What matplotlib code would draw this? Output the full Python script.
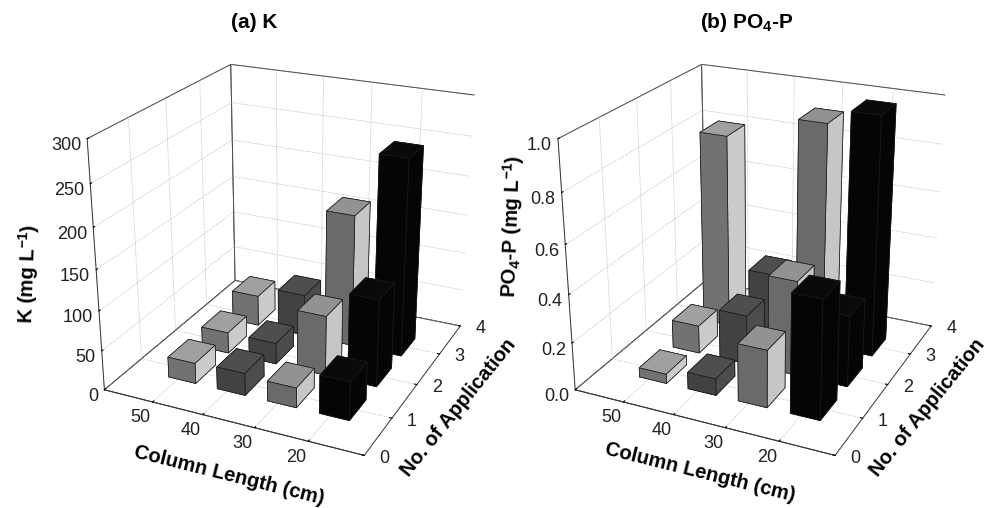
import matplotlib
matplotlib.use('Agg')
import matplotlib.pyplot as plt
from mpl_toolkits.mplot3d import proj3d
import numpy as np

plt.rcParams['font.family'] = 'Liberation Sans'
plt.rcParams['mathtext.fontset'] = 'custom'
plt.rcParams['mathtext.rm'] = 'Liberation Sans'
plt.rcParams['mathtext.bf'] = 'Liberation Sans:bold'
plt.rcParams['mathtext.default'] = 'regular'

column_length = [50, 40, 30, 20]
applications = [3, 2, 1]
app_ticks = [0, 1, 2, 3, 4]

# one list per column length, application 3, 2, 1
k_values = [[40, 27, 26], [54, 27, 28], [170, 76, 25], [250, 110, 48]]
po4_values = [[0.83, 0.12, 0.04], [0.27, 0.21, 0.07], [0.94, 0.40, 0.24], [1.00, 0.30, 0.49]]

k_ticks = [0, 50, 100, 150, 200, 250, 300]
po4_ticks = [0.0, 0.2, 0.4, 0.6, 0.8, 1.0]

# front, side, top greys for each column length
col_greys = [('#727272', '#cbcbcb', '#a0a0a0'),
             ('#424242', '#4c4c4c', '#4e4e4e'),
             ('#6a6a6a', '#c6c6c6', '#929292'),
             ('#050505', '#050505', '#0a0a0a')]


def tick_text(ax, x, y, z, s, dx, dy, ha='center'):
    # tick label anchored on the projected axis point, moved by some pixels
    px, py, _ = proj3d.proj_transform(x, y, z, ax.get_proj())
    ax.annotate(s, xy=(px, py), xytext=(dx, dy), textcoords='offset pixels',
                fontsize=13, color='#222222', ha=ha, va='center', annotation_clip=False)


def draw_panel(pos, values, zmax, zticks, zfmt):
    ax = fig.add_axes(pos, projection='3d', computed_zorder=False)
    ax.set_proj_type('persp', focal_length=0.45)
    ax.view_init(elev=23.3, azim=-65)
    ax.set_box_aspect((0.985, 1, 0.93), zoom=0.905)
    ax.set_xlim(60, 10)
    ax.set_ylim(0, 4)
    ax.set_zlim(0, zmax)
    ax.patch.set_alpha(0)

    order = 1
    for i, length in enumerate(column_length):
        front, side, top = col_greys[i]
        for j, app in enumerate(applications):
            # bar3d faces: -z, +z, -y, +y, -x, +x
            ax.bar3d(length - 3.7, app - 0.3, 0, 5.6, 0.6, values[i][j],
                     color=[top, top, front, front, side, side],
                     edgecolor='#1a1a1a', linewidth=0.5, shade=False,
                     zorder=order)
            order += 1

    ax.set_xticks(column_length)
    ax.set_yticks(app_ticks)
    ax.set_zticks(zticks)
    ax.set_xticklabels([])
    ax.set_yticklabels([])
    ax.set_zticklabels([])

    for axis in (ax.xaxis, ax.yaxis, ax.zaxis):
        axis.set_pane_color((1, 1, 1, 1))
        axis.pane.set_edgecolor('#333333')
        axis.pane.set_linewidth(0.7)
        axis.line.set_color('#333333')
        axis.line.set_linewidth(0.7)
        axis._axinfo['grid'].update(color='#999999', linewidth=0.5, linestyle=':')
        axis._axinfo['tick'].update(inward_factor=0.0, outward_factor=0.1)
    ax.zaxis.set_ticks_position('lower')

    for v in column_length:
        tick_text(ax, v, 0, 0, str(v), -12, -16)
    for v in app_ticks:
        tick_text(ax, 10, v, 0, str(v), 20, -3)
    for v in zticks:
        tick_text(ax, 60, 0, v, zfmt % v, -6, -7, ha='right')
    return ax


fig = plt.figure(figsize=(9.87, 5.08), dpi=100)

draw_panel([0.008, 0.012, 0.56, 1.0], k_values, 300, k_ticks, '%d')
draw_panel([0.485, 0.012, 0.56, 1.0], po4_values, 1.0, po4_ticks, '%.1f')

lab = dict(fontsize=14.5, fontweight='bold', ha='center', va='center', rotation_mode='anchor')
fig.text(229 / 987, 1 - 475 / 508, 'Column Length (cm)', rotation=-14, **lab)
fig.text(700 / 987, 1 - 472 / 508, 'Column Length (cm)', rotation=-14, **lab)
fig.text(458 / 987, 1 - 408 / 508, 'No. of Application', rotation=51, **lab)
fig.text(927 / 987, 1 - 408 / 508, 'No. of Application', rotation=51, **lab)
fig.text(28 / 987, 1 - 274 / 508, r'K (mg L$\mathbf{^{-1}}$)', rotation=88, **lab)
fig.text(512 / 987, 1 - 226 / 508, r'PO$\mathbf{_4}$-P (mg L$\mathbf{^{-1}}$)', rotation=88, **lab)

fig.text(254 / 987, 1 - 23 / 508, '(a) K', fontsize=15, fontweight='bold', ha='center', va='center')
fig.text(747 / 987, 1 - 22 / 508, r'(b) PO$\mathbf{_4}$-P', fontsize=15, fontweight='bold', ha='center', va='center')

fig.savefig('out.png', dpi=100)
